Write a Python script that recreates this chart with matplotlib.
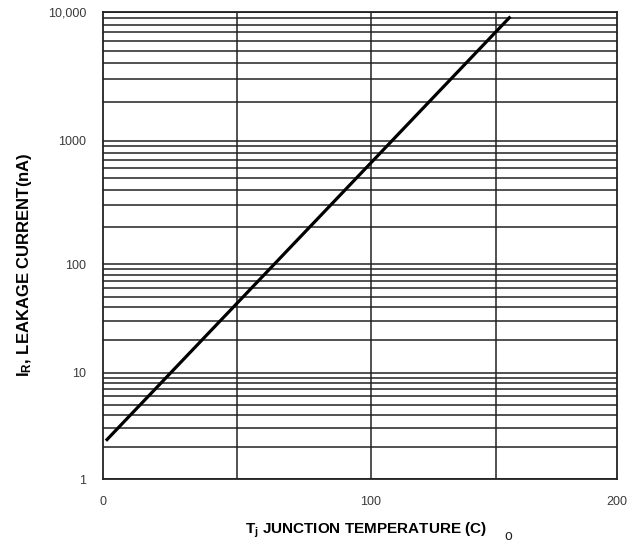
import numpy as np
import matplotlib.pyplot as plt

temp_c = [1.2, 156.0]
leak_na = [2.3, 9250.0]

x_ticks = [0, 100, 200]
x_grid = [50, 100, 150]
y_ticks = [1, 10, 100, 1000, 10000]
y_labels = ['1', '10', '100', '1000', '10,000']

# the printed chart is not evenly spaced; map decades / 50-degree steps to pixel spans
x_knots = [0, 50, 100, 150, 200]
x_px = [0, 134, 268, 393.3, 514]
y_knots = [0, 1, 2, 3, 4]
y_px = [0, 106.6, 215, 338.6, 467]

def xfwd(x):
    return np.interp(x, x_knots, x_px, left=-1e3, right=1e4)

def xinv(v):
    return np.interp(v, x_px, x_knots)

def yfwd(y):
    y = np.clip(np.asarray(y, dtype=float), 1e-3, None)
    return np.interp(np.log10(y), y_knots, y_px, left=-1e3, right=1e4)

def yinv(v):
    return 10 ** np.interp(v, y_px, y_knots)

plt.rcParams['font.family'] = ['Liberation Sans', 'DejaVu Sans']
plt.rcParams['mathtext.fontset'] = 'custom'
plt.rcParams['mathtext.rm'] = 'Liberation Sans:bold'
plt.rcParams['mathtext.default'] = 'rm'

fig = plt.figure(figsize=(6.44, 5.45), dpi=100)
ax = fig.add_axes([0.1595, 0.1206, 0.798, 0.857])

ax.set_xscale('function', functions=(xfwd, xinv))
ax.set_yscale('function', functions=(yfwd, yinv))
ax.set_xlim(0, 200)
ax.set_ylim(1, 10000)

ax.plot(temp_c, leak_na, color='black', linewidth=2.3, solid_capstyle='butt')

ax.set_xticks(x_ticks)
ax.set_xticklabels([str(t) for t in x_ticks])
ax.set_yticks(y_ticks)
ax.set_yticklabels(y_labels)
minor = [m * 10 ** d for d in range(4) for m in range(2, 10)]
ax.set_yticks(minor, minor=True)
ax.set_xticks(x_grid, minor=True)
ax.tick_params(which='both', length=0)
ax.tick_params(axis='y', pad=12, labelsize=9, labelcolor='#3a3a3a')
ax.tick_params(axis='x', pad=12, labelsize=9, labelcolor='#3a3a3a')

for y in minor + y_ticks:
    ax.axhline(y, color='#222222', linewidth=1.1, zorder=1)
for x in x_grid:
    ax.axvline(x, color='#222222', linewidth=1.1, zorder=1)
for s in ax.spines.values():
    s.set_linewidth(1.3)
    s.set_color('#222222')

fig.text(366 / 644, 1 - 530 / 545, r'T$_{j}$ JUNCTION TEMPERATURE (C)',
         ha='center', va='center', fontsize=11, fontweight='bold')
fig.text(508 / 644, 1 - 536 / 545, 'o', ha='center', va='center',
         fontsize=10, color='#222222')
fig.text(25 / 644, 1 - 265 / 545, r'I$_{R}$, LEAKAGE CURRENT(nA)',
         ha='center', va='center', rotation=90, fontsize=12, fontweight='bold')

fig.savefig('out.png', dpi=100)
